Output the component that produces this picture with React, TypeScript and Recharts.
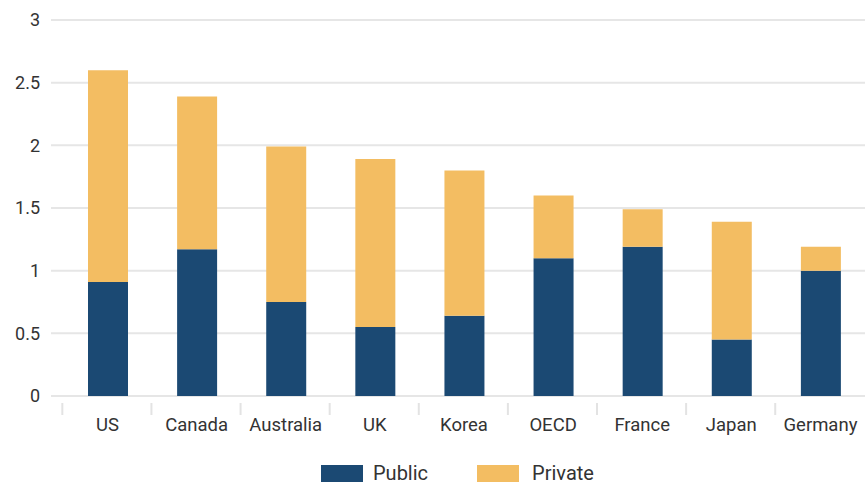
import { BarChart, Bar, XAxis, YAxis, CartesianGrid, Legend } from 'recharts';

const countries = ['US', 'Canada', 'Australia', 'UK', 'Korea', 'OECD', 'France', 'Japan', 'Germany'];
const publicSpend = [0.91, 1.17, 0.75, 0.55, 0.64, 1.1, 1.19, 0.45, 1.0];
const privateSpend = [1.69, 1.22, 1.24, 1.34, 1.16, 0.5, 0.3, 0.94, 0.19];
const yTicks = [0, 0.5, 1, 1.5, 2, 2.5, 3];

const NAVY = '#1b4973';
const GOLD = '#f3bd62';
const FONT = 'Roboto, "Noto Sans", sans-serif';

const data = countries.map((name, i) => ({
  name,
  public: publicSpend[i],
  private: privateSpend[i],
}));

const XTick = (props: any) => {
  const { x, y, payload, width, visibleTicksCount } = props;
  const band = width / visibleTicksCount;
  const left = x - band / 2;
  return (
    <g>
      <line x1={left} x2={left} y1={y - 1} y2={y + 11} stroke="#e3e3e3" strokeWidth={2} />
      <text x={x} y={y + 27} textAnchor="middle" fill="#333" fontSize={18.5} fontFamily={FONT}>
        {payload.value}
      </text>
    </g>
  );
};

// legend swatches are wide rectangles, so draw it by hand
const LegendContent = () => (
  <div style={{ display: 'flex', paddingLeft: 321, fontFamily: FONT, fontSize: 20, color: '#333' }}>
    <div style={{ display: 'flex', alignItems: 'center', marginRight: 49 }}>
      <span style={{ display: 'inline-block', width: 42, height: 17, background: NAVY, marginRight: 10 }} />
      Public
    </div>
    <div style={{ display: 'flex', alignItems: 'center' }}>
      <span style={{ display: 'inline-block', width: 42, height: 17, background: GOLD, marginRight: 13 }} />
      Private
    </div>
  </div>
);

export default function App() {
  return (
    <div style={{ position: 'absolute', left: 0, top: 0, width: 865, height: 485, background: '#fff' }}>
      <BarChart width={865} height={485} data={data} margin={{ top: 20, right: 0, left: 0, bottom: 23 }}>
        <CartesianGrid vertical={false} stroke="#e6e6e6" strokeWidth={2} />
        <XAxis
          dataKey="name"
          axisLine={false}
          tickLine={false}
          interval={0}
          height={40}
          padding={{ left: 12, right: 0 }}
          tick={<XTick />}
        />
        <YAxis
          domain={[0, 3]}
          ticks={yTicks}
          width={51}
          axisLine={false}
          tickLine={false}
          tickSize={0}
          tickMargin={11}
          tick={{ fill: '#333', fontSize: 18, fontFamily: FONT }}
        />
        <Legend
          content={<LegendContent />}
          wrapperStyle={{ position: 'absolute', top: 461, left: 0, width: 865, height: 26 }}
        />
        <Bar dataKey="public" name="Public" stackId="a" fill={NAVY} barSize={40} isAnimationActive={false} />
        <Bar dataKey="private" name="Private" stackId="a" fill={GOLD} barSize={40} isAnimationActive={false} />
      </BarChart>
    </div>
  );
}
